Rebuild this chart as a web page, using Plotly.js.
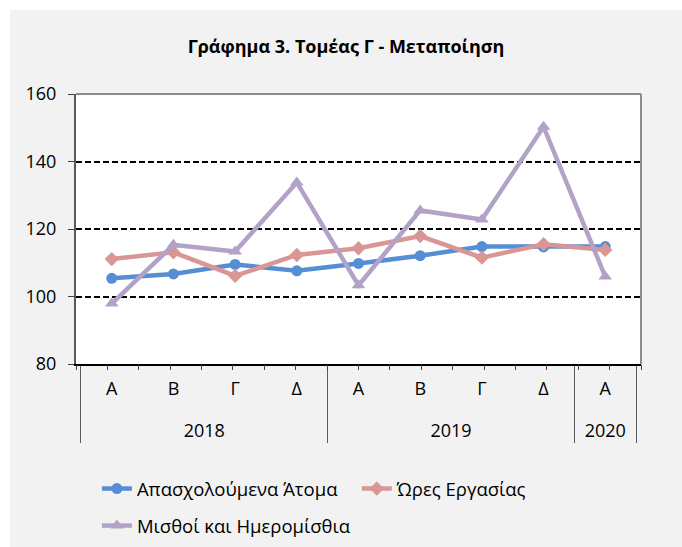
<!DOCTYPE html>
<html>
<head>
<meta charset="utf-8">
<script src="https://cdn.plot.ly/plotly-3.0.1.min.js"></script>
<style>
  html, body { margin: 0; padding: 0; background: #ffffff; }
  #chart { position: absolute; left: 10px; top: 10px; width: 672px; height: 537px; }
</style>
</head>
<body>
<div id="chart"></div>
<script>
// ---- data ----
const years = ['2018', '2018', '2018', '2018', '2019', '2019', '2019', '2019', '2020'];
const quarters = ['Α', 'Β', 'Γ', 'Δ', 'Α', 'Β', 'Γ', 'Δ', 'Α'];
const seriesNames = ['Απασχολούμενα Άτομα', 'Ώρες Εργασίας', 'Μισθοί και Ημερομίσθια'];
const employed = [105.4, 106.7, 109.5, 107.6, 109.8, 112.1, 114.8, 114.7, 114.8];
const hours = [111.1, 113.1, 106.1, 112.3, 114.3, 117.9, 111.5, 115.5, 113.8];
const wages = [97.9, 115.3, 113.3, 133.8, 103.3, 125.5, 122.8, 150.3, 105.9];
const yTicks = [80, 100, 120, 140, 160];
const titleText = 'Γράφημα 3. Τομέας Γ - Μεταποίηση';

const FONT = 'Open Sans, Noto Sans, sans-serif';
const colors = ['#558ed5', '#d99694', '#b3a2c7'];
const symbols = ['circle', 'diamond', 'triangle-up'];
const sizes = [11, 11, 12];
const values = [employed, hours, wages];
const legendOf = ['legend', 'legend2', 'legend3'];

// inner labels get an extra blank line so the year row sits lower, as in the original
const quarterLabels = quarters.map(q => q + '<br>\u00a0');

const traces = values.map((v, i) => ({
  type: 'scatter',
  mode: 'lines+markers',
  name: seriesNames[i],
  legend: legendOf[i],
  x: [years, quarterLabels],
  y: v,
  line: { color: colors[i], width: 4.5 },
  marker: { color: colors[i], symbol: symbols[i], size: sizes[i] },
  hoverinfo: 'skip'
}));

// invisible helper trace so the secondary axis can draw the small ticks
traces.push({
  type: 'scatter',
  mode: 'markers',
  x: quarters.map((q, i) => i),
  y: wages,
  xaxis: 'x2',
  marker: { opacity: 0 },
  showlegend: false,
  hoverinfo: 'skip'
});

const legendFont = { family: FONT, size: 18.5, color: '#000000' };
function legendAt(x, yPx) {
  return {
    orientation: 'h',
    xref: 'paper', x: x, xanchor: 'left',
    yref: 'container', y: 1 - yPx / 537, yanchor: 'middle',
    font: legendFont,
    bgcolor: 'rgba(0,0,0,0)'
  };
}

const layout = {
  width: 672,
  height: 537,
  paper_bgcolor: '#f2f2f2',
  plot_bgcolor: '#ffffff',
  margin: { l: 66, r: 41, t: 84, b: 183 },
  font: { family: FONT, size: 18, color: '#000000' },
  title: {
    text: '<b>' + titleText + '</b>',
    font: { family: FONT, size: 18, color: '#000000' },
    x: 0.5, xanchor: 'center',
    y: 1 - 37 / 537, yanchor: 'middle', yref: 'container'
  },
  xaxis: {
    type: 'multicategory',
    tickson: 'boundaries',
    ticks: 'outside',
    ticklen: 5,
    tickcolor: 'rgba(0,0,0,0)',
    ticklabelstandoff: 7,
    showline: true,
    linecolor: '#000000',
    linewidth: 2,
    showgrid: false,
    zeroline: false,
    showdividers: true,
    dividercolor: '#595959',
    dividerwidth: 1,
    tickfont: { family: FONT, size: 18, color: '#000000' },
    fixedrange: true
  },
  xaxis2: {
    type: 'linear',
    overlaying: 'x',
    side: 'bottom',
    range: [-0.5, quarters.length - 0.5],
    tick0: -0.5, dtick: 0.5,
    ticks: 'outside',
    ticklen: 5,
    tickcolor: '#404040',
    showticklabels: false,
    showgrid: false,
    zeroline: false,
    showline: false,
    fixedrange: true
  },
  yaxis: {
    range: [80, 160],
    tickvals: yTicks,
    ticks: 'outside',
    ticklen: 6,
    tickcolor: '#404040',
    ticklabelstandoff: 8,
    showline: true,
    linecolor: '#595959',
    linewidth: 2,
    showgrid: true,
    gridcolor: '#000000',
    gridwidth: 2,
    griddash: '6px,3px',
    zeroline: false,
    tickfont: { family: FONT, size: 18, color: '#000000' },
    fixedrange: true
  },
  showlegend: true,
  legend: legendAt(0.037, 479),
  legend2: legendAt(0.497, 479),
  legend3: legendAt(0.037, 516),
  shapes: [
    { type: 'line', xref: 'paper', yref: 'paper', x0: 0, x1: 1, y0: 1, y1: 1,
      line: { color: '#8c8c8c', width: 2 }, layer: 'above' },
    { type: 'line', xref: 'paper', yref: 'paper', x0: 1, x1: 1, y0: 0, y1: 1,
      line: { color: '#8c8c8c', width: 2 }, layer: 'above' }
  ]
};

Plotly.newPlot('chart', traces, layout, { displayModeBar: false, staticPlot: true });
</script>
</body>
</html>
